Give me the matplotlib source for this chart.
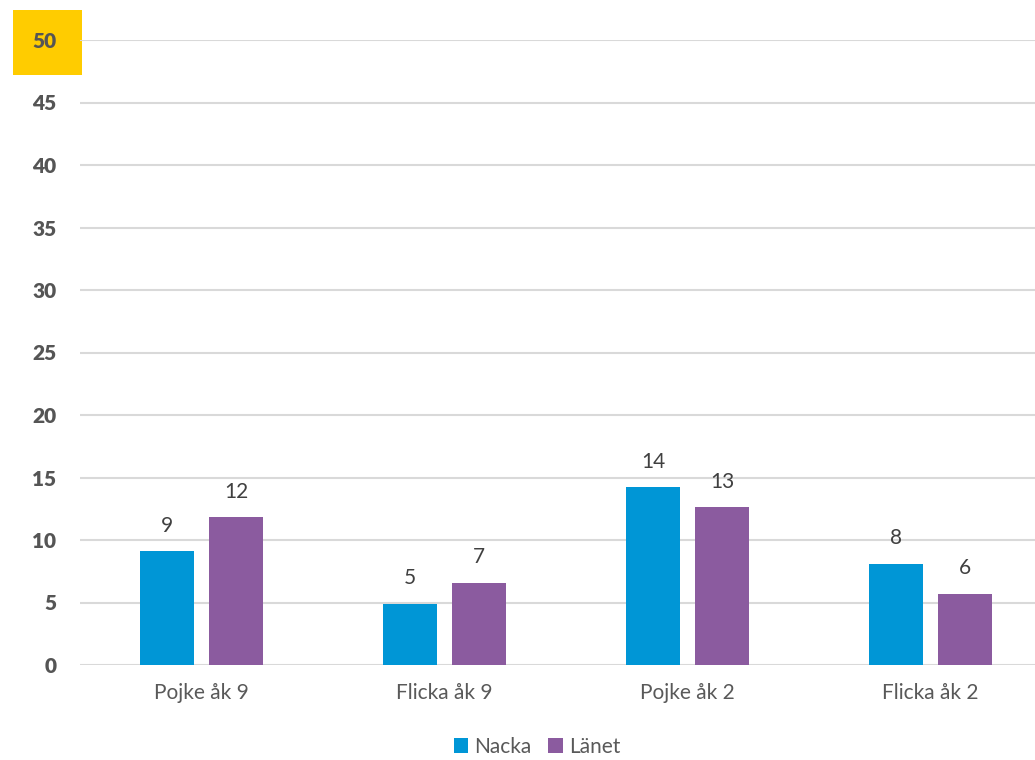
import matplotlib
matplotlib.use("Agg")
import matplotlib.pyplot as plt
from matplotlib.patches import Rectangle
import numpy as np

categories = ["Pojke åk 9", "Flicka åk 9", "Pojke åk 2", "Flicka åk 2"]
nacka = [9.1, 4.9, 14.25, 8.1]
lanet = [11.85, 6.6, 12.65, 5.7]
nacka_labels = ["9", "5", "14", "8"]
lanet_labels = ["12", "7", "13", "6"]
yticks = [0, 5, 10, 15, 20, 25, 30, 35, 40, 45, 50]

plt.rcParams["font.family"] = ["Lato", "DejaVu Sans"]

fig = plt.figure(figsize=(10.35, 7.6), dpi=100)
ax = fig.add_axes([80 / 1035, 95 / 760, 955 / 1035, 625 / 760])

x = np.arange(len(categories))
width = 0.226
offset = 0.142
b1 = ax.bar(x - offset, nacka, width, color="#0096D6", label="Nacka", zorder=3)
b2 = ax.bar(x + offset, lanet, width, color="#8B5B9F", label="Länet", zorder=3)

for bars, labels in ((b1, nacka_labels), (b2, lanet_labels)):
    for bar, lab in zip(bars, labels):
        ax.annotate(lab, (bar.get_x() + bar.get_width() / 2, bar.get_height()),
                    xytext=(0, 11), textcoords="offset points",
                    ha="center", va="bottom", fontsize=15, color="#404040")

ax.set_xlim(-0.5, -0.5 + 955 / 243)
ax.set_ylim(0, 50)
ax.set_yticks(yticks)
ax.set_yticklabels([str(t) for t in yticks], fontsize=15, fontweight="heavy", color="#555555")
ax.set_xticks(x)
ax.set_xticklabels(categories, fontsize=15, color="#595959")
ax.tick_params(axis="y", length=0, pad=17)
ax.tick_params(axis="x", length=0, pad=13)
ax.grid(axis="y", color="#d9d9d9", linewidth=1.5, zorder=0)
for s in ax.spines.values():
    s.set_visible(False)
ax.patch.set_alpha(0)

# yellow highlight behind the top tick
fig.patches.append(Rectangle((13 / 1035, (760 - 75) / 760), 69 / 1035, 65 / 760,
                             transform=fig.transFigure, facecolor="#FFCC00",
                             edgecolor="none", zorder=-1))

leg = fig.legend(loc="center", bbox_to_anchor=(537 / 1035, 13 / 760), ncol=2,
                 frameon=False, fontsize=15, handlelength=0.7, handleheight=0.7,
                 handletextpad=0.3, columnspacing=0.8)
for t in leg.get_texts():
    t.set_color("#595959")

fig.savefig("out.png", dpi=100)
